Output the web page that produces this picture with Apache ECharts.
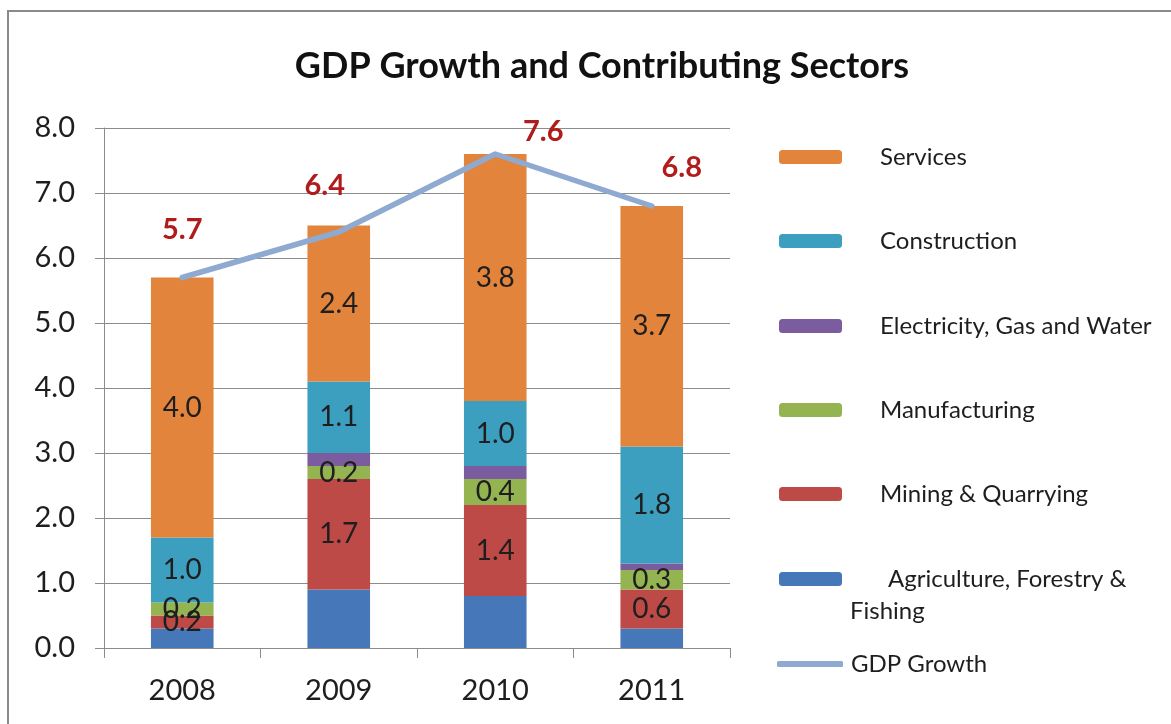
<!DOCTYPE html>
<html>
<head>
<meta charset="utf-8">
<script src="https://cdn.jsdelivr.net/npm/echarts@6/dist/echarts.min.js"></script>
<style>
  html, body { margin: 0; padding: 0; background: #fff; }
  #chart { width: 1171px; height: 724px; }
</style>
</head>
<body>
<div id="chart"></div>
<script>
// Years on the category axis
const years = ['2008', '2009', '2010', '2011'];

// Sector contributions to GDP growth (percentage points), bottom to top
const agriculture   = [0.3, 0.9, 0.8, 0.3];
const mining        = [0.2, 1.7, 1.4, 0.6];
const manufacturing = [0.2, 0.2, 0.4, 0.3];
const electricity   = [0.0, 0.2, 0.2, 0.1];
const construction  = [1.0, 1.1, 1.0, 1.8];
const services      = [4.0, 2.4, 3.8, 3.7];

// Total GDP growth (%)
const gdpGrowth = [5.7, 6.4, 7.6, 6.8];

// Value axis tick labels
const yTicks = ['0.0', '1.0', '2.0', '3.0', '4.0', '5.0', '6.0', '7.0', '8.0'];

const FONT = 'Lato';
const TXT = '#1e1e1e';
const LEG_FS = 24;
const LEG_LH = 32;

const chart = echarts.init(document.getElementById('chart'), null, { renderer: 'canvas' });

function barSeries(name, data, color, withLabel) {
  return {
    name: name,
    type: 'bar',
    stack: 'gdp',
    barWidth: '40%',
    data: data,
    itemStyle: { color: color },
    label: {
      show: withLabel,
      position: 'inside',
      color: TXT,
      fontFamily: FONT,
      fontSize: 28,
      formatter: p => p.value.toFixed(1)
    },
    emphasis: { disabled: true }
  };
}

// label placement of the red growth figures around each line point
const growthLabelOffsets = [[0, -33], [-14, -31], [48, -7], [30, -23]];

function legendItem(centerY, lines, name, fmt, extra) {
  return Object.assign({
    left: 779,
    top: centerY - lines * LEG_LH / 2,
    padding: 0,
    orient: 'vertical',
    itemWidth: 63,
    itemHeight: 14,
    selectedMode: false,
    data: [name],
    formatter: fmt,
    textStyle: {
      fontFamily: FONT,
      fontSize: LEG_FS,
      color: TXT,
      rich: {
        p: { padding: [0, 0, 0, 33], fontFamily: FONT, fontSize: LEG_FS, color: TXT, lineHeight: LEG_LH },
        q: { padding: [0, 0, 0, 41], fontFamily: FONT, fontSize: LEG_FS, color: TXT, lineHeight: LEG_LH },
        r: { padding: [0, 0, 0, 3], fontFamily: FONT, fontSize: LEG_FS, color: TXT, lineHeight: LEG_LH }
      }
    }
  }, extra || {});
}

const option = {
  backgroundColor: '#ffffff',
  animation: false,
  title: {
    text: 'GDP Growth and Contributing Sectors',
    left: 597,
    top: 43,
    textAlign: 'center',
    textStyle: { fontFamily: FONT, fontWeight: 'bold', fontSize: 36, color: '#111' }
  },
  graphic: [
    {
      type: 'rect',
      shape: { x: 8, y: 11, width: 1200, height: 760 },
      style: { fill: 'none', stroke: '#8a8a8a', lineWidth: 2 },
      silent: true
    }
  ],
  legend: [
    legendItem(161, 1, 'Services', n => '{p|' + n + '}'),
    legendItem(245, 1, 'Construction', n => '{p|' + n + '}'),
    legendItem(330, 1, 'Electricity, Gas and Water', n => '{p|' + n + '}'),
    legendItem(414, 1, 'Manufacturing', n => '{p|' + n + '}'),
    legendItem(498, 1, 'Mining & Quarrying', n => '{p|' + n + '}'),
    legendItem(583, 3, 'Agriculture, Forestry & Fishing',
      () => '{r|\u00a0}\n{q|Agriculture, Forestry &}\n{r|Fishing}'),
    legendItem(668, 1, 'GDP Growth', n => '{r|' + n + '}',
      { left: 777, itemWidth: 66, itemHeight: 6, data: [{ name: 'GDP Growth', icon: 'roundRect' }] })
  ],
  grid: { left: 104, right: 441, top: 128, bottom: 76, containLabel: false },
  xAxis: {
    type: 'category',
    data: years,
    boundaryGap: true,
    axisLine: { show: true, lineStyle: { color: '#8c8c8c', width: 1 } },
    axisTick: { show: true, length: 10, lineStyle: { color: '#8c8c8c' } },
    axisLabel: { color: TXT, fontFamily: FONT, fontSize: 29, margin: 28 }
  },
  yAxis: {
    type: 'value',
    min: 0,
    max: 8,
    interval: 1,
    axisLine: { show: true, lineStyle: { color: '#8c8c8c', width: 1 } },
    axisTick: { show: true, length: 9, lineStyle: { color: '#8c8c8c' } },
    splitLine: { show: true, lineStyle: { color: '#8c8c8c', width: 1 } },
    axisLabel: {
      color: TXT, fontFamily: FONT, fontSize: 29, margin: 29,
      formatter: (v) => yTicks[Math.round(v)]
    }
  },
  series: [
    barSeries('Agriculture, Forestry & Fishing', agriculture, '#4577b9', false),
    barSeries('Mining & Quarrying', mining, '#bd4a47', true),
    barSeries('Manufacturing', manufacturing, '#93b450', true),
    barSeries('Electricity, Gas and Water', electricity, '#7a5c9f', false),
    barSeries('Construction', construction, '#3d9fc0', true),
    barSeries('Services', services, '#e2843c', true),
    {
      name: 'GDP Growth',
      type: 'line',
      data: gdpGrowth.map((v, i) => ({
        value: v,
        label: { offset: growthLabelOffsets[i] }
      })),
      symbol: 'circle',
      symbolSize: 1,
      showSymbol: true,
      lineStyle: { color: '#8eaad0', width: 5.5, cap: 'round', join: 'round' },
      itemStyle: { color: '#8eaad0' },
      label: {
        show: true,
        position: 'top',
        distance: 0,
        color: '#b01b1b',
        fontFamily: FONT,
        fontWeight: 'bold',
        fontSize: 29,
        formatter: p => p.value.toFixed(1)
      },
      z: 5,
      emphasis: { disabled: true }
    }
  ]
};

chart.setOption(option);
</script>
</body>
</html>
